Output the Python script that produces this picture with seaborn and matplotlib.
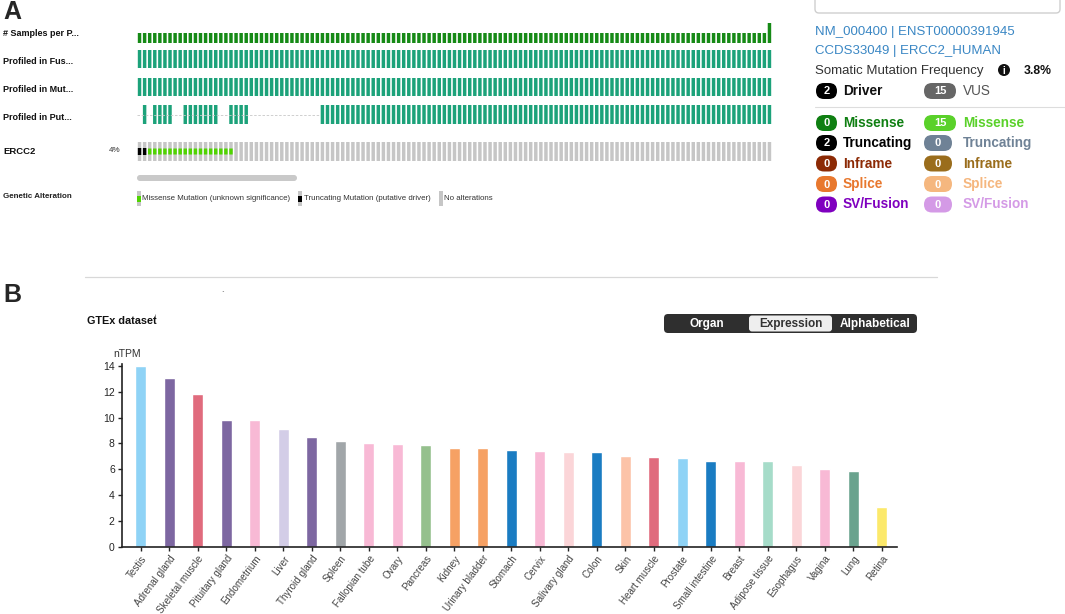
import numpy as np
import pandas as pd
import seaborn as sns
import matplotlib.pyplot as plt
from matplotlib.patches import FancyBboxPatch, Circle

# ---------------- data ----------------
# panel A: oncoprint tracks
n_samples = 125
samples_per_patient = [1] * 124 + [2]
putative_profiled_ranges = [(1, 1), (3, 6), (9, 15), (18, 21), (36, 124)]
n_truncating = 2
n_missense = 17
track_labels = ["# Samples per P...", "Profiled in Fus...", "Profiled in Mut...", "Profiled in Put..."]

mut_types = ["Missense", "Truncating", "Inframe", "Splice", "SV/Fusion"]
driver_counts = [0, 2, 0, 0, 0]
vus_counts = [15, 0, 0, 0, 0]
driver_colors = ["#0f7f12", "#000000", "#8c2a05", "#e8782e", "#7f00bf"]
vus_colors = ["#5ad12a", "#6f8296", "#9a6d1c", "#f5b77f", "#d49ae6"]

# panel B: GTEx expression
tissues = ["Testis", "Adrenal gland", "Skeletal muscle", "Pituitary gland", "Endometrium",
           "Liver", "Thyroid gland", "Spleen", "Fallopian tube", "Ovary", "Pancreas",
           "Kidney", "Urinary bladder", "Stomach", "Cervix", "Salivary gland", "Colon",
           "Skin", "Heart muscle", "Prostate", "Small intestine", "Breast",
           "Adipose tissue", "Esophagus", "Vagina", "Lung", "Retina"]
ntpm = [14.0, 13.1, 11.8, 9.85, 9.85, 9.1, 8.5, 8.2, 8.0, 7.95, 7.85, 7.65, 7.65, 7.5,
        7.45, 7.35, 7.35, 7.05, 6.95, 6.85, 6.65, 6.6, 6.6, 6.35, 6.0, 5.85, 3.1]
tissue_colors = ["#8fd3f6", "#7d67a1", "#e06b7d", "#7d67a1", "#f8b9d5", "#d3cde7",
                 "#7d67a1", "#a1a6a9", "#f8b9d5", "#f8b9d5", "#95c08d", "#f6a164",
                 "#f6a164", "#1a7cc2", "#f8b9d5", "#fbd5d8", "#1a7cc2", "#fcc3a8",
                 "#e06b7d", "#8fd3f6", "#1a7cc2", "#f8b9d5", "#a6dcc9", "#fbd5d8",
                 "#f8b9d5", "#6aa38e", "#fce96b"]

W, H = 1065, 614
sns.set_style("white")
plt.rcParams['font.family'] = ['Liberation Sans', 'DejaVu Sans']

fig = plt.figure(figsize=(W / 100, H / 100), dpi=100)


def px_axes(left, top, right, bottom):
    return fig.add_axes([left / W, 1 - bottom / H, (right - left) / W, (bottom - top) / H])


ov = fig.add_axes([0, 0, 1, 1])
ov.set_xlim(0, W)
ov.set_ylim(H, 0)
ov.axis('off')

# ---------------- panel A: oncoprint ----------------
ov.text(3, 12, "A", fontsize=18, fontweight='bold', va='center', ha='left')
for lab, y in zip(track_labels, [33, 61, 89, 117]):
    ov.text(3, y, lab, fontsize=6.5, fontweight='bold', va='center', color='#111')
ov.text(3, 151, "ERCC2", fontsize=6.8, fontweight='bold', va='center', color='#111')
ov.text(109, 151, "4%", fontsize=5.8, va='center', color='#333')
ov.text(3, 197, "Genetic Alteration", fontsize=5.8, fontweight='bold', va='center', color='#222')

onc = px_axes(137, 0, 772, 170)
onc.set_xlim(0, n_samples)
onc.set_ylim(170, 0)
onc.axis('off')
cols = np.arange(n_samples) + 0.5
bw = 0.68
green_dark = "#168a16"
teal = "#1ca27a"
grey = "#c6c6c6"
kw = dict(width=bw, linewidth=0, snap=False)

spp = np.array(samples_per_patient)
onc.bar(cols, 10 * spp, bottom=43 - 10 * spp, color=green_dark, **kw)
onc.bar(cols, 18, bottom=50, color=teal, **kw)
onc.bar(cols, 18, bottom=78, color=teal, **kw)
onc.plot([0, putative_profiled_ranges[-1][0]], [114.5, 114.5], ls=(0, (3, 2)), color='#c8c8c8', lw=0.6)
for a, b in putative_profiled_ranges:
    idx = np.arange(a, b + 1)
    onc.bar(idx + 0.5, 19, bottom=105, color=teal, **kw)
onc.bar(cols, 19, bottom=142, color=grey, **kw)
onc.bar(cols[:n_truncating], 7, bottom=148, color='black', **kw)
onc.bar(cols[n_truncating:n_truncating + n_missense], 6, bottom=148.5, color='#4fd400', **kw)

# scrollbar and legend
ov.add_patch(FancyBboxPatch((137, 175), 160, 6, boxstyle='round,pad=0,rounding_size=3',
                            fc='#c9c9c9', ec='none'))
leg_items = [(137, '#4fd400', "Missense Mutation (unknown significance)"),
             (298, 'black', "Truncating Mutation (putative driver)"),
             (439, None, "No alterations")]
for x, c, lab in leg_items:
    ov.add_patch(plt.Rectangle((x, 191), 3.5, 15, fc=grey, ec='none'))
    if c is not None:
        ov.add_patch(plt.Rectangle((x, 196), 3.5, 6, fc=c, ec='none'))
    ov.text(x + 5.5, 199, lab, fontsize=5.7, va='center', color='#333')

# right info panel
ov.add_patch(FancyBboxPatch((815, -30), 245, 43, boxstyle='round,pad=0,rounding_size=4',
                            fc='white', ec='#cfcfcf', lw=1))
ov.text(815, 32, "NM_000400 | ENST00000391945", fontsize=9.5, color='#3a87c4', va='center')
ov.text(815, 51, "CCDS33049 | ERCC2_HUMAN", fontsize=9.5, color='#3a87c4', va='center')
ov.text(815, 71, "Somatic Mutation Frequency", fontsize=9.5, color='#333', va='center')
ov.add_patch(Circle((1004, 70), 6, fc='#111', ec='none'))
ov.text(1004, 70.5, "i", fontsize=7, fontweight='bold', color='white', ha='center', va='center')
ov.text(1024, 71, "3.8%", fontsize=8.8, fontweight='bold', color='#111', va='center')


def pill(x, y, w, color, label):
    ov.add_patch(FancyBboxPatch((x, y - 8), w, 16, boxstyle='round,pad=0,rounding_size=8',
                                fc=color, ec='none'))
    ov.text(x + w / 2, y + 0.5, label, fontsize=8, fontweight='bold', color='white',
            ha='center', va='center')


pill(816, 91, 21, 'black', str(sum(driver_counts)))
ov.text(843, 91, "Driver", fontsize=9.8, fontweight='bold', color='#111', va='center')
pill(924, 91, 32, '#666666', str(sum(vus_counts)))
ov.text(963, 91, "VUS", fontsize=9.8, color='#555', va='center')
ov.plot([815, 1065], [107, 107], color='#dddddd', lw=0.8)

for i, mt in enumerate(mut_types):
    y = [123, 143, 163.5, 184, 204.5][i]
    pill(816, y, 21, driver_colors[i], str(driver_counts[i]))
    ov.text(843, y, mt, fontsize=9.8, fontweight='bold', color=driver_colors[i], va='center')
    pill(924, y, 32 if vus_counts[i] > 9 else 28, vus_colors[i], str(vus_counts[i]))
    ov.text(963, y, mt, fontsize=9.8, fontweight='bold', color=vus_colors[i], va='center')

# ---------------- panel B ----------------
ov.plot([85, 937], [277, 277], color='#d8d8d8', lw=0.9)
ov.text(3, 295, "B", fontsize=18, fontweight='bold', va='center', ha='left')
ov.text(222, 294, "`", fontsize=6, color='#444', va='center')
ov.text(87, 321, "GTEx dataset", fontsize=7.8, fontweight='bold', va='center', color='#111')
ov.text(155, 316, "i", fontsize=4, va='center', color='#333')

ov.add_patch(FancyBboxPatch((664, 314), 253, 19, boxstyle='round,pad=0,rounding_size=4',
                            fc='#2f2f2f', ec='none'))
ov.add_patch(FancyBboxPatch((749, 315.5), 83, 16, boxstyle='round,pad=0,rounding_size=3',
                            fc='#eeeeee', ec='none'))
ov.text(707, 323.5, "Organ", fontsize=8.5, fontweight='bold', color='white', ha='center', va='center')
ov.text(791, 323.5, "Expression", fontsize=8.5, fontweight='bold', color='#333', ha='center', va='center')
ov.text(875, 323.5, "Alphabetical", fontsize=8.5, fontweight='bold', color='white', ha='center', va='center')

df = pd.DataFrame({'tissue': tissues, 'ntpm': ntpm})
ax = px_axes(121.7, 364, 896.7, 546.7)
sns.barplot(data=df, x='tissue', y='ntpm', hue='tissue', palette=tissue_colors,
            width=0.39, saturation=1, legend=False, ax=ax)
ax.set_xlim(-0.667, 26.52)
ax.set_ylim(0, 14.15)
ax.set_yticks(range(0, 15, 2))
ax.set_xlabel('')
ax.set_ylabel('')
sns.despine(ax=ax)
for s in ['left', 'bottom']:
    ax.spines[s].set_color('#222')
    ax.spines[s].set_linewidth(1.2)
ax.tick_params(axis='both', bottom=True, left=True, direction='out', length=3, width=1,
               color='#222', labelsize=7.5, pad=2)
ax.set_xticks(range(len(tissues)))
ax.set_xticklabels(tissues, rotation=53, ha='right', rotation_mode='anchor',
                   fontsize=7.1, color='#444')
ax.set_facecolor('none')
ov.text(113, 354, "nTPM", fontsize=7.5, va='center', color='#333')

fig.savefig("out.png", dpi=100)
